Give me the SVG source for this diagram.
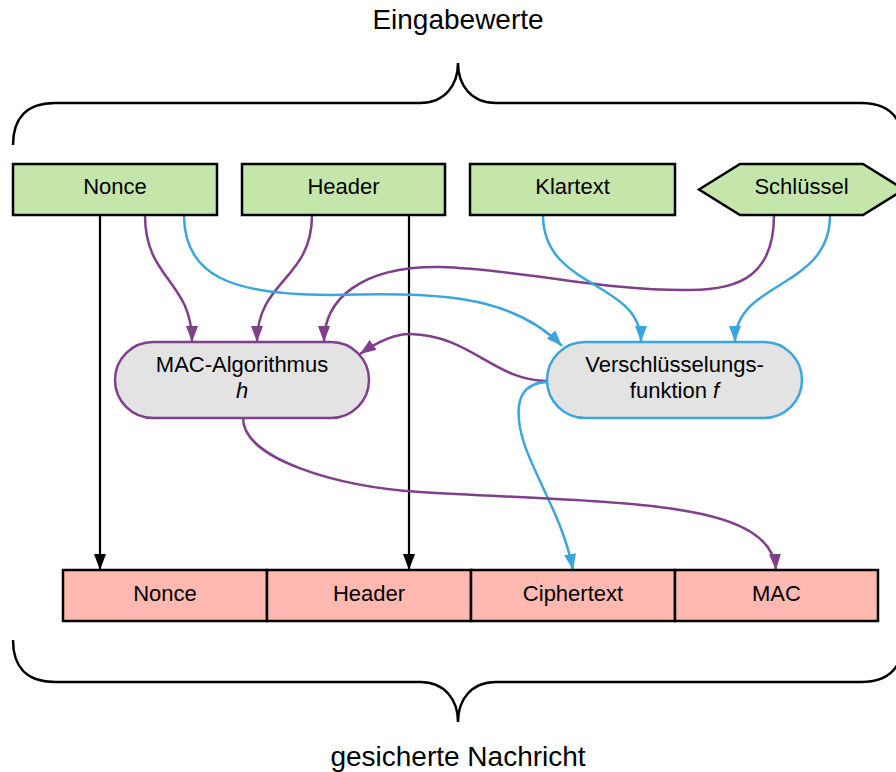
<svg xmlns="http://www.w3.org/2000/svg" width="896" height="772" viewBox="0 0 896 772">
<style>
text{font-family:"Liberation Sans",Arial,sans-serif;fill:#000;text-anchor:middle}
.lbl{font-size:22px}
.title{font-size:28px}
.in{fill:#c5e6ab;stroke:#000;stroke-width:2.5}
.out{fill:#ffb9b0;stroke:#000;stroke-width:2.5}
.pillp{fill:#e3e3e3;stroke:#7f3f8b;stroke-width:2.5}
.pillb{fill:#e3e3e3;stroke:#3aa6dd;stroke-width:2.5}
.brace{fill:none;stroke:#000;stroke-width:2.5}
.k{fill:none;stroke:#000;stroke-width:2.2;marker-end:url(#ak)}
.p{fill:none;stroke:#7f3f8b;stroke-width:2.5;marker-end:url(#ap)}
.b{fill:none;stroke:#3aa6dd;stroke-width:2.5;marker-end:url(#ab)}
</style>
<defs>
<marker id="ak" viewBox="0 0 16 12" refX="16" refY="6" markerWidth="16" markerHeight="12" markerUnits="userSpaceOnUse" orient="auto"><path d="M0,0 L16,6 L0,12 z" fill="#000"/></marker>
<marker id="ap" viewBox="0 0 16 12" refX="16" refY="6" markerWidth="16" markerHeight="12" markerUnits="userSpaceOnUse" orient="auto"><path d="M0,0 L16,6 L0,12 z" fill="#7f3f8b"/></marker>
<marker id="ab" viewBox="0 0 16 12" refX="16" refY="6" markerWidth="16" markerHeight="12" markerUnits="userSpaceOnUse" orient="auto"><path d="M0,0 L16,6 L0,12 z" fill="#3aa6dd"/></marker>
</defs>
<rect width="896" height="772" fill="#fff"/>

<g id="braces">
<text class="title" x="458" y="29">Eingabewerte</text>
<path class="brace" d="M13 145 C13 120 25 103 55 103 L420 103 C445 103 458 85 458 63 C458 85 471 103 496 103 L861 103 C891 103 903 120 903 145"/>
<path class="brace" d="M13 640 C13 665 25 682 55 682 L420 682 C445 682 458 700 458 722 C458 700 471 682 496 682 L861 682 C891 682 903 665 903 640"/>
<text class="title" x="458" y="766">gesicherte Nachricht</text>
</g>

<g id="connectors">
<path class="k" d="M100 215 L100 570"/>
<path class="k" d="M409 215 L409 570"/>
<path class="p" d="M145 215 C145 280 192 280 192 342"/>
<path class="p" d="M312 215 C312 280 257 280 257 342"/>
<path class="p" d="M774 215 C774 275 740 290 690 290 C600 291 520 269 440 267 C360 266 324 300 324 342"/>
<path class="b" d="M184 215 C184 275 230 295 330 295 C430 293 510 292 562 346"/>
<path class="b" d="M543 215 C543 290 641 280 641 342"/>
<path class="b" d="M830 215 C830 290 735 280 735 342"/>
<path class="p" d="M547 381 C495 381 470 335 410 334 C395 334 380 340 360 354"/>
<path class="b" d="M547 382 C522 383 517 400 519 420 C522 460 562 510 573 570"/>
<path class="p" d="M243 418 C243 460 340 487 420 492 C520 498 620 500 680 510 C745 520 774 540 776 570"/>
</g>

<g id="nonce-in"><rect class="in" x="13" y="164" width="204" height="51"/><text class="lbl" x="115" y="194">Nonce</text></g>
<g id="header-in"><rect class="in" x="242" y="164" width="203" height="51"/><text class="lbl" x="343.5" y="194">Header</text></g>
<g id="klartext-in"><rect class="in" x="470" y="164" width="205" height="51"/><text class="lbl" x="572.5" y="194">Klartext</text></g>
<g id="schluessel-in"><polygon class="in" points="699,189.5 740,164 863,164 904,189.5 863,215 740,215"/><text class="lbl" x="801.5" y="194">Schlüssel</text></g>

<g id="mac-alg"><rect class="pillp" x="115" y="342" width="254" height="76" rx="38"/><text class="lbl" x="242" y="372">MAC-Algorithmus</text><text class="lbl" x="242" y="398" font-style="italic">h</text></g>
<g id="enc-fn"><rect class="pillb" x="547" y="342" width="255" height="76" rx="38"/><text class="lbl" x="674.5" y="372">Verschlüsselungs-</text><text class="lbl" x="674.5" y="398">funktion <tspan font-style="italic">f</tspan></text></g>

<g id="nonce-out"><rect class="out" x="63" y="570" width="204" height="51"/><text class="lbl" x="165" y="601">Nonce</text></g>
<g id="header-out"><rect class="out" x="267" y="570" width="204" height="51"/><text class="lbl" x="369" y="601">Header</text></g>
<g id="cipher-out"><rect class="out" x="471" y="570" width="204" height="51"/><text class="lbl" x="573" y="601">Ciphertext</text></g>
<g id="mac-out"><rect class="out" x="675" y="570" width="203" height="51"/><text class="lbl" x="776.5" y="601">MAC</text></g>
</svg>
